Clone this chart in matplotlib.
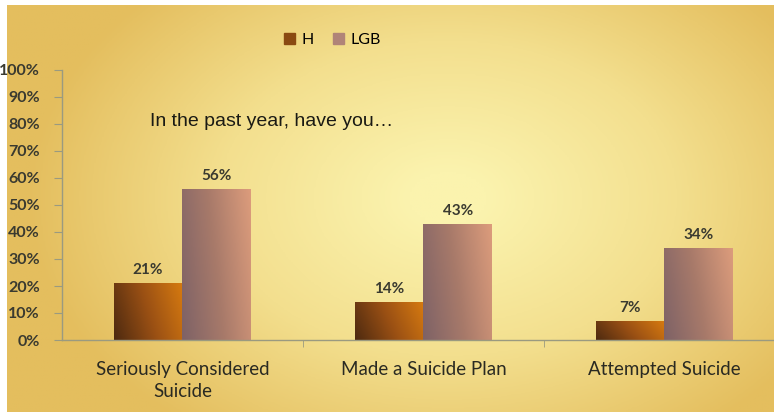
import numpy as np
import matplotlib
matplotlib.use("Agg")
import matplotlib.pyplot as plt
from matplotlib.colors import LinearSegmentedColormap
from matplotlib.patches import Patch

categories = ["Seriously Considered\nSuicide", "Made a Suicide Plan", "Attempted Suicide"]
h_values = [21, 14, 7]
lgb_values = [56, 43, 34]
series_names = ["H", "LGB"]
y_ticks = [0, 10, 20, 30, 40, 50, 60, 70, 80, 90, 100]

W, H = 774, 412
fig = plt.figure(figsize=(W / 100, H / 100), dpi=100)
fig.patch.set_facecolor("white")

# background: golden edges, pale yellow centre
bg = fig.add_axes([7 / W, 0, 1 - 7 / W, 1 - 5 / H], zorder=0)
xx, yy = np.meshgrid(np.linspace(-1, 1, 300), np.linspace(-1, 1, 160))
r = np.sqrt(((xx - 0.15) / 1.0) ** 2 + ((yy + 0.05) / 1.3) ** 2)
bg_cmap = LinearSegmentedColormap.from_list("bg", ["#fbf3ae", "#f3df8e", "#e4be5e"])
bg.imshow(np.clip(r, 0, 1.1), cmap=bg_cmap, aspect="auto", extent=[0, 1, 0, 1], vmin=0.1, vmax=1.1)
bg.set_axis_off()

ax = fig.add_axes([62 / W, (412 - 340) / H, 1 - 62 / W, 270 / H], zorder=1)
ax.patch.set_alpha(0)

x = np.arange(len(categories))
bw = 0.286

h_cmap = LinearSegmentedColormap.from_list("h", ["#4e2a10", "#9a5014", "#d67a10"])
lgb_cmap = LinearSegmentedColormap.from_list("lgb", ["#7e6266", "#a87a6a", "#dc9c7c"])

grad = np.linspace(0, 1, 64)
gx, gy = np.meshgrid(grad, grad)
g = (gx * 0.8 + gy * 0.2)

def gradient_bars(xs, vals, cmap):
    bars = ax.bar(xs, vals, bw, color="none", edgecolor="none")
    for b in bars:
        x0, y0 = b.get_x(), b.get_y()
        im = ax.imshow(g, cmap=cmap, origin="lower", aspect="auto",
                       extent=[x0, x0 + b.get_width(), y0, y0 + b.get_height()], zorder=2)
        im.set_clip_path(b)
    return bars

hb = gradient_bars(x - bw / 2, h_values, h_cmap)
lb = gradient_bars(x + bw / 2, lgb_values, lgb_cmap)

for xs, vals in [(x - bw / 2, h_values), (x + bw / 2, lgb_values)]:
    for xi, v in zip(xs, vals):
        ax.text(xi, v + 2.2, f"{v}%", ha="center", va="bottom", fontsize=11,
                fontweight="bold", color="#3a3a30", family="Lato")

ax.set_xlim(-0.5, -0.5 + (W - 62) / 241)
ax.set_ylim(0, 100)
ax.set_yticks(y_ticks)
ax.set_yticklabels([f"{t}%" for t in y_ticks], fontsize=11.5, fontweight="bold",
                   color="#3a3a30", family="Lato")
ax.set_xticks(x)
ax.set_xticklabels(categories, fontsize=13.5, color="#2a2a22", family="Lato")
ax.set_xticks([0.5, 1.5], minor=True)
ax.tick_params(axis="x", which="major", length=0, pad=15)
ax.tick_params(axis="x", which="minor", length=5, direction="out", color="#9a9a80")
ax.tick_params(axis="y", length=6, color="#9a9a80", pad=10)
for s in ["top", "right"]:
    ax.spines[s].set_visible(False)
for s in ["left", "bottom"]:
    ax.spines[s].set_color("#9a9a80")
    ax.spines[s].set_linewidth(1.0)
for lab in ax.get_xticklabels():
    lab.set_linespacing(1.4)

fig.text(150 / W, 1 - 122 / H, "In the past year, have you…",
         fontsize=14, family="Liberation Sans", color="#1a1a14", va="center")

handles = [Patch(color="#8a4a12"), Patch(color="#b08478")]
fig.legend(handles, series_names, loc="center", bbox_to_anchor=(332 / W, 1 - 40 / H),
           ncol=2, frameon=False, handlelength=0.7, handleheight=0.7,
           handletextpad=0.4, columnspacing=1.2, prop={"family": "Lato", "size": 11.5})

fig.savefig("out.png", dpi=100)
